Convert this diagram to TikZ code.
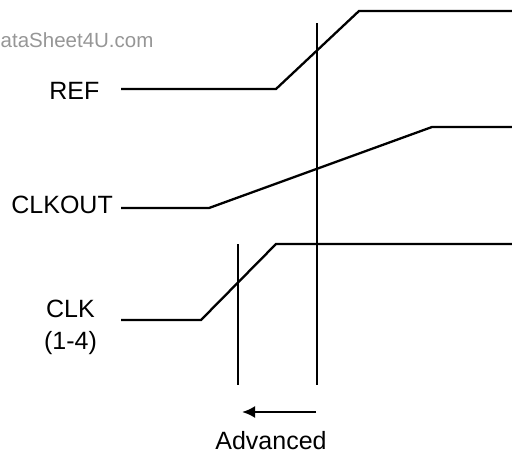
\documentclass[tikz,border=0pt]{standalone}
\usepackage{fontspec}
\setmainfont{Liberation Sans}
\usetikzlibrary{arrows.meta}
\definecolor{wm}{RGB}{150,150,150}
\begin{document}
\begin{tikzpicture}[x=1pt,y=-1pt,
  wave/.style={line width=2.3pt,line join=miter},
  lbl/.style={inner sep=0pt,font=\fontsize{25}{30}\selectfont},
  mark line/.style={line width=2.3pt}]
\useasboundingbox (0,0) rectangle (512,453);
% watermark
\node[inner sep=0pt,anchor=base west,text=wm,font=\fontsize{20.5}{24}\selectfont] (wmk) at (0.5,47) {ataSheet4U.com};
% labels
\node[lbl,anchor=base east] (ref) at (99.5,99) {REF};
\node[lbl,anchor=base east] (clkout) at (113,213) {CLKOUT};
\node[lbl,anchor=base] (clk) at (70.5,317) {CLK};
\node[lbl,anchor=base] (clknum) at (70.5,349) {(1-4)};
\node[lbl,anchor=base] (adv) at (271,449) {Advanced};
% waveforms
\draw[wave] (121,89) -- (276,89) -- (359,11) -- (512,11);
\draw[wave] (121,208) -- (209,208) -- (432,127) -- (512,127);
\draw[wave] (121,320) -- (201,320) -- (276,244) -- (512,244);
% marker lines
\coordinate (m1t) at (317,23);
\coordinate (m1b) at (317,385);
\coordinate (m2t) at (238,244);
\coordinate (m2b) at (238,385);
\draw[mark line] (m1t) -- (m1b);
\draw[mark line] (m2t) -- (m2b);
% arrow
\coordinate (as) at (316,412);
\coordinate (ae) at (242,412);
\draw[mark line,-{Latex[length=13pt,width=12pt]}] (as) -- (ae);
\end{tikzpicture}
\end{document}
